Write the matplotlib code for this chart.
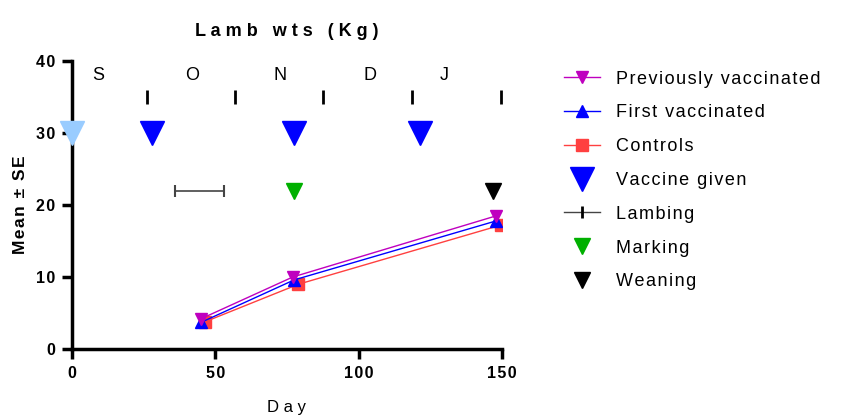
import matplotlib
matplotlib.use("Agg")
import matplotlib.pyplot as plt
from matplotlib.lines import Line2D

plt.rcParams['font.family'] = ['Liberation Sans', 'DejaVu Sans']

# Data
days_prev = [45, 77, 148]
wts_prev = [4.2, 10.0, 18.5]
days_first = [45, 77.5, 148]
wts_first = [3.7, 9.6, 17.8]
days_ctrl = [46.5, 79, 149.5]
wts_ctrl = [3.8, 9.0, 17.2]

vacc_first_day = [0]
vacc_days = [28, 77.5, 121.5]
vacc_level = 30

lambing_center = 44.5
lambing_halfwidth = 8.5
event_level = 22
marking_day = [77.5]
weaning_day = [147]

month_labels = ['S', 'O', 'N', 'D', 'J']
month_label_x = [9, 42, 72.5, 104, 130]
month_label_y = 38
month_bounds = [26, 57, 87.5, 118.5, 149.5]
month_bound_y = 35

legend_labels = ['Previously vaccinated', 'First vaccinated', 'Controls', 'Vaccine given',
                 'Lambing', 'Marking', 'Weaning']

c_prev = '#BF00BF'
c_first = '#0000FF'
c_ctrl = '#FF4040'


def spaced(s, sep='\u200a'):
    return sep.join(s)


fig = plt.figure(figsize=(8.42, 4.18), dpi=100)
ax = fig.add_axes([0.0855, 0.165, 0.5107, 0.689])

ax.plot(days_ctrl, wts_ctrl, color=c_ctrl, lw=1, marker='s', ms=9, mec=c_ctrl, mfc=c_ctrl, zorder=3)
ax.plot(days_first, wts_first, color=c_first, lw=1, marker='^', ms=9, mec=c_first, mfc=c_first, zorder=4)
ax.plot(days_prev, wts_prev, color=c_prev, lw=1, marker='v', ms=9, mec=c_prev, mfc=c_prev, zorder=5)

ax.plot(vacc_first_day, [vacc_level], ls='none', marker='v', ms=17, color='#99CCFF', clip_on=False, zorder=6)
ax.plot(vacc_days, [vacc_level] * len(vacc_days), ls='none', marker='v', ms=17, color='#0000FF', zorder=6)

ax.errorbar([lambing_center], [event_level], xerr=[lambing_halfwidth], fmt='none',
            ecolor='#444444', elinewidth=1.2, capsize=4, capthick=1.5)
ax.plot(marking_day, [event_level], ls='none', marker='v', ms=11, color='#00B000')
ax.plot(weaning_day, [event_level], ls='none', marker='v', ms=11, color='black')

ax.plot(month_bounds, [month_bound_y] * len(month_bounds), ls='none', marker='|', ms=10, mew=2,
        color='black', clip_on=False)
for lab, x in zip(month_labels, month_label_x):
    ax.text(x, month_label_y, lab, ha='center', va='center', fontsize=13)

ax.set_xlim(0, 150)
ax.set_ylim(0, 40)
ax.set_xticks([0, 50, 100, 150])
ax.set_yticks([0, 10, 20, 30, 40])
for s in ['top', 'right']:
    ax.spines[s].set_visible(False)
for s in ['left', 'bottom']:
    ax.spines[s].set_linewidth(2.5)
ax.tick_params(axis='both', width=2.5, length=7, labelsize=11.5, pad=5)
ax.set_xticklabels([spaced(str(v)) for v in [0, 50, 100, 150]])
ax.set_yticklabels([spaced(str(v)) for v in [0, 10, 20, 30, 40]])
for lbl in ax.get_xticklabels() + ax.get_yticklabels():
    lbl.set_fontweight('bold')

ax.set_xlabel(spaced('Day', ' '), fontsize=12, labelpad=14)
ax.set_ylabel(spaced('Mean ± SE'), fontsize=12.5, fontweight='bold', labelpad=6)
ax.set_title(spaced('Lamb wts (Kg)', ' '), fontsize=13, fontweight='bold', pad=18)

handles = [
    Line2D([], [], color=c_prev, lw=1, marker='v', ms=9, mec=c_prev, mfc=c_prev),
    Line2D([], [], color=c_first, lw=1, marker='^', ms=9, mec=c_first, mfc=c_first),
    Line2D([], [], color=c_ctrl, lw=1, marker='s', ms=9, mec=c_ctrl, mfc=c_ctrl),
    Line2D([], [], ls='none', marker='v', ms=17, color='#0000FF'),
    Line2D([], [], color='#444444', lw=1, marker='|', ms=9, mew=2, mec='black'),
    Line2D([], [], ls='none', marker='v', ms=12, color='#00B000'),
    Line2D([], [], ls='none', marker='v', ms=12, color='black'),
]
fig.legend(handles, [spaced(l) for l in legend_labels], loc='upper left',
           bbox_to_anchor=(0.65, 0.87), frameon=False,
           fontsize=13, labelspacing=0.93, handlelength=2.0, handletextpad=0.9)

fig.savefig('out.png', dpi=100)
